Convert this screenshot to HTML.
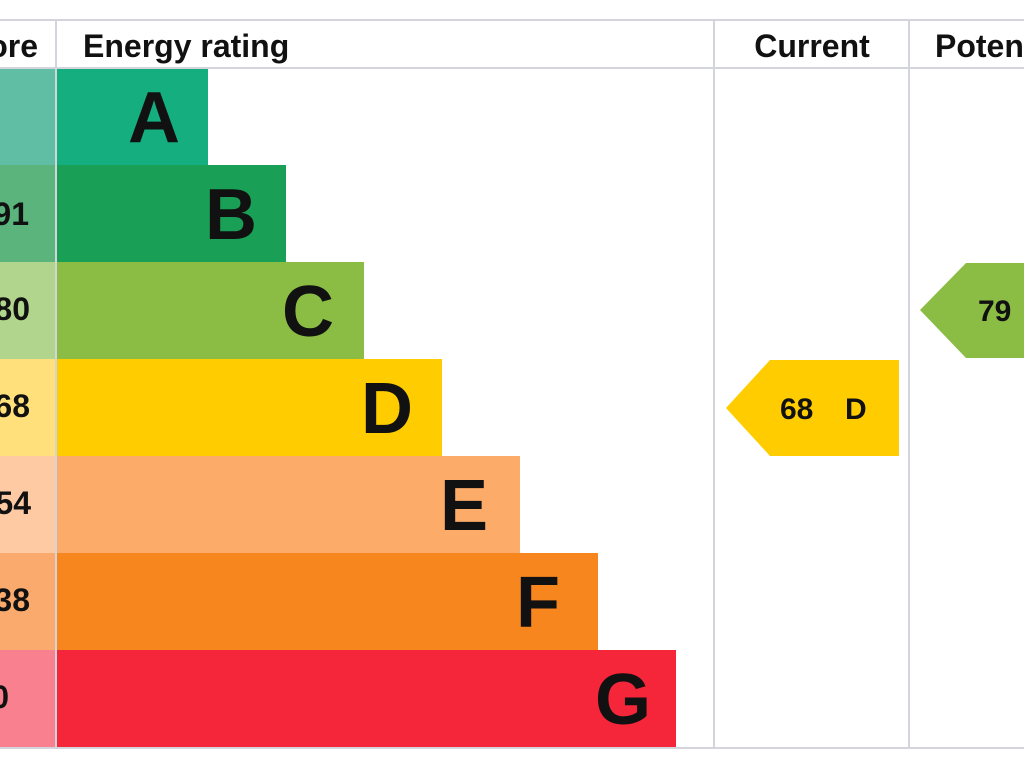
<!DOCTYPE html>
<html><head><style>
html,body{margin:0;padding:0;background:#fff;}
svg{display:block;}
text{font-family:"Liberation Sans",Arial,sans-serif;font-weight:bold;fill:#111;}
</style></head><body>
<svg width="1024" height="768" viewBox="0 0 1024 768">
<rect width="1024" height="768" fill="#fff"/>
<!-- left score column -->
<rect x="0" y="68" width="56" height="97" fill="#5fbea3"/>
<rect x="0" y="165" width="56" height="97" fill="#5ab47c"/>
<rect x="0" y="262" width="56" height="97" fill="#b2d58d"/>
<rect x="0" y="359" width="56" height="97" fill="#ffe07a"/>
<rect x="0" y="456" width="56" height="97" fill="#fdcaa4"/>
<rect x="0" y="553" width="56" height="97" fill="#f9aa6c"/>
<rect x="0" y="650" width="56" height="97" fill="#f9808e"/>
<!-- bars -->
<rect x="57" y="68" width="151" height="97" fill="#14ae7f"/>
<rect x="57" y="165" width="229" height="97" fill="#19a056"/>
<rect x="57" y="262" width="307" height="97" fill="#8bbd45"/>
<rect x="57" y="359" width="385" height="97" fill="#ffcc00"/>
<rect x="57" y="456" width="463" height="97" fill="#fdab68"/>
<rect x="57" y="553" width="541" height="97" fill="#f7861f"/>
<rect x="57" y="650" width="619" height="97" fill="#f5253a"/>
<!-- grid lines -->
<line x1="0" y1="20" x2="1024" y2="20" stroke="#d4d4dc" stroke-width="2"/>
<line x1="0" y1="68" x2="1024" y2="68" stroke="#d4d4dc" stroke-width="2"/>
<line x1="0" y1="748" x2="1024" y2="748" stroke="#d4d4dc" stroke-width="2"/>
<line x1="56" y1="20" x2="56" y2="748" stroke="#d4d4dc" stroke-width="2"/>
<line x1="714" y1="20" x2="714" y2="748" stroke="#d4d4dc" stroke-width="2"/>
<line x1="909" y1="20" x2="909" y2="748" stroke="#d4d4dc" stroke-width="2"/>
<!-- headers -->
<text x="38" y="57" font-size="32" text-anchor="end">ore</text>
<text x="83" y="57" font-size="32">Energy rating</text>
<text x="812" y="57" font-size="32" text-anchor="middle">Current</text>
<text x="935" y="57" font-size="32">Potential</text>
<!-- scores -->
<text x="29" y="225" font-size="32" text-anchor="end">91</text>
<text x="30" y="320" font-size="32" text-anchor="end">80</text>
<text x="30" y="417" font-size="32" text-anchor="end">68</text>
<text x="31" y="514" font-size="32" text-anchor="end">54</text>
<text x="30" y="611" font-size="32" text-anchor="end">38</text>
<text x="9" y="708" font-size="32" text-anchor="end">0</text>
<!-- letters -->
<text x="180" y="142" font-size="72" text-anchor="end">A</text>
<text x="257" y="239" font-size="72" text-anchor="end">B</text>
<text x="334" y="336" font-size="72" text-anchor="end">C</text>
<text x="413" y="433" font-size="72" text-anchor="end">D</text>
<text x="488" y="530" font-size="72" text-anchor="end">E</text>
<text x="560" y="627" font-size="72" text-anchor="end">F</text>
<text x="651" y="724" font-size="72" text-anchor="end">G</text>
<!-- current arrow -->
<polygon points="726,408 770,360 899,360 899,456 770,456" fill="#ffcc00"/>
<text x="780" y="419" font-size="30">68</text>
<text x="845" y="419" font-size="30">D</text>
<!-- potential arrow -->
<polygon points="920,310 966,263 1030,263 1030,358 966,358" fill="#8bbd45"/>
<text x="978" y="321" font-size="30">79</text>
</svg>
</body></html>
